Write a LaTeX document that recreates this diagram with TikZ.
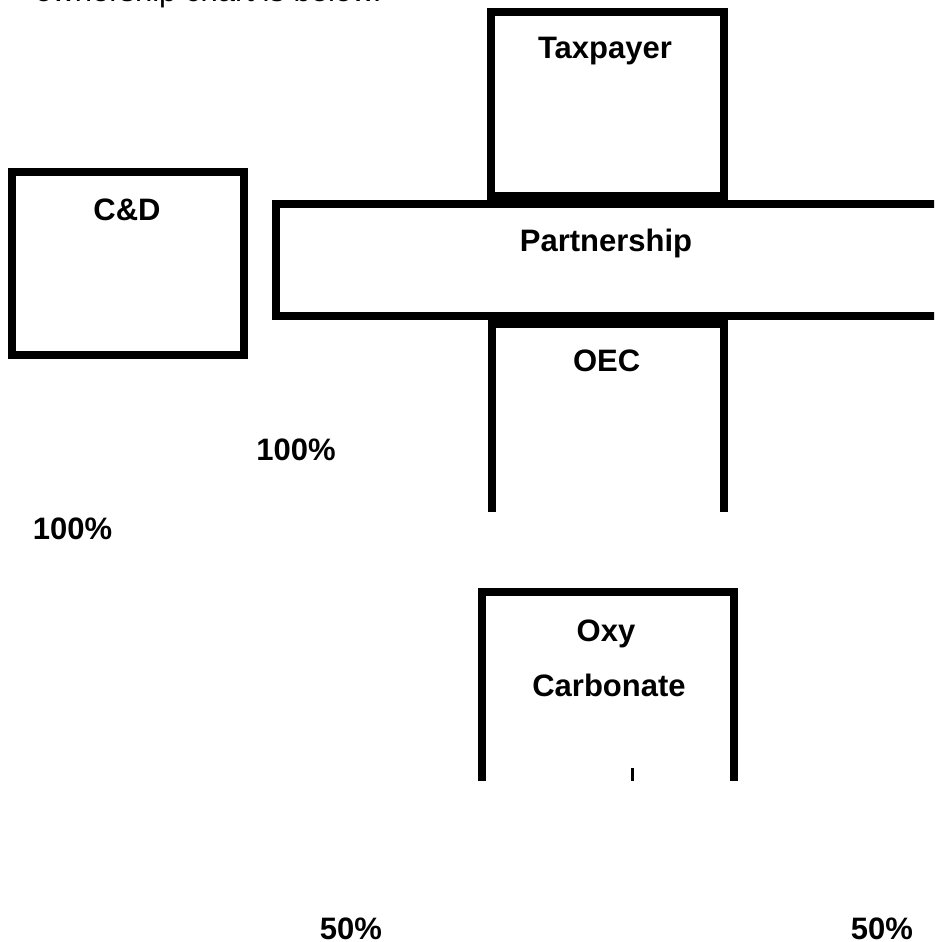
\documentclass[tikz,border=0pt]{standalone}
\usepackage{fontspec}
\setmainfont{Liberation Sans}
\usetikzlibrary{positioning}
\tikzset{
    entbox/.style = {rectangle, draw=black, line width=8pt, inner sep=0pt},
    openbox/.style = {draw=black, line width=8pt},
    lbl/.style = {anchor=base, inner sep=0pt, font=\bfseries},
    plain/.style = {anchor=base west, inner sep=0pt},
    every picture/.style={font issue=\fontsize{31}{37}},
    font issue/.style={execute at begin picture={#1\selectfont}
  }
}
\begin{document}
\begin{tikzpicture}[x=1pt,y=-1pt]
%
\clip (0,0) rectangle (934,942);
%
\node[plain] at (35, 1.5) (intro) {ownership chart is below.};
%
\node[entbox, minimum width=233pt, minimum height=184pt] at (607.5, 104) (taxbox) {};
\node[entbox, minimum width=232pt, minimum height=183pt] at (128, 263.8) (cdbox) {};
\node[entbox, minimum width=684pt, minimum height=112pt] at (618, 260) (partbox) {};
%
\coordinate (oec1) at (491.5, 512);
\coordinate (oec2) at (491.5, 324);
\coordinate (oec3) at (724, 324);
\coordinate (oec4) at (724, 512);
\draw[openbox] (oec1) -- (oec2) -- (oec3) -- (oec4);
%
\coordinate (oxy1) at (481.5, 781);
\coordinate (oxy2) at (481.5, 591.5);
\coordinate (oxy3) at (733.5, 591.5);
\coordinate (oxy4) at (733.5, 781);
\draw[openbox] (oxy1) -- (oxy2) -- (oxy3) -- (oxy4);
\fill (631, 768) rectangle (634, 781);
%
\node[lbl] at (605, 59) (taxpayer) {Taxpayer};
\node[lbl] at (127, 220) (cd) {C\&D};
\node[lbl] at (606, 251.7) (partnership) {Partnership};
\node[lbl] at (606.7, 371.7) (oec) {OEC};
\node[lbl] at (606, 641) (oxy) {Oxy};
\node[lbl] at (609, 696) (carbonate) {Carbonate};
%
\node[lbl] at (296, 460.7) (pcta) {100\%};
\node[lbl] at (72.5, 539) (pctb) {100\%};
\node[lbl] at (351, 939) (pctc) {50\%};
\node[lbl] at (882, 939) (pctd) {50\%};

\end{tikzpicture}
\end{document}
